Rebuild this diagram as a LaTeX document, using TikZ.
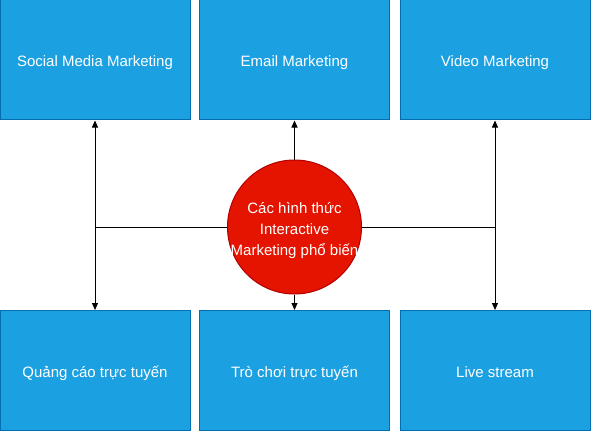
\documentclass[tikz,border=0pt]{standalone}
\usepackage{fontspec}
\setmainfont{Liberation Sans}
\usetikzlibrary{arrows.meta}

\definecolor{boxblue}{RGB}{27,161,226}
\definecolor{boxline}{RGB}{0,110,175}
\definecolor{hubred}{RGB}{229,20,0}
\definecolor{hubline}{RGB}{178,0,0}

\tikzset{every picture/.style={line width=0.75pt}}
\tikzset{
  kindbox/.style={draw=boxline, fill=boxblue, text=white, minimum width=142.5pt, minimum height=90pt, inner sep=0.75pt, text height=10pt, text depth=0pt, font=\fontsize{11.25}{13.5}\selectfont},
  hubdisc/.style={circle, draw=hubline, fill=hubred, minimum size=100.5pt, inner sep=0pt},
  hubtext/.style={text=white, inner sep=0pt, align=center, font=\fontsize{11.25}{15.75}\selectfont},
  link/.style={draw=black, line width=0.75pt},
  tip/.style={-{Triangle[length=5.25pt,width=4.5pt]}}
}

\begin{document}
\begin{tikzpicture}[x=0.75pt,y=0.75pt,yscale=-1,xscale=1]
        \useasboundingbox (0,0) rectangle (591,431);
        % Top row
        \node [kindbox] (social) at (95,60) {Social Media Marketing};
        \node [kindbox] (email) at (294.5,60) {Email Marketing};
        \node [kindbox] (video) at (495,60) {Video Marketing};
        % Bottom row
        \node [kindbox] (ads) at (95,370.5) {Quảng cáo trực tuyến};
        \node [kindbox] (games) at (294.5,370.5) {Trò chơi trực tuyến};
        \node [kindbox] (live) at (495,370.5) {Live stream};
        % Centre
        \node [hubdisc, label={[hubtext, name=hubcap, yshift=-2.8pt]center:{Các hình thức\\Interactive\\Marketing phổ biến}}] (hub) at (294.5,227) {};

        % Side links
        \draw [link,{Triangle[length=5.25pt,width=4.5pt]}-{Triangle[length=5.25pt,width=4.5pt]}] (social.south) -- (ads.north);
        \draw [link,{Triangle[length=5.25pt,width=4.5pt]}-{Triangle[length=5.25pt,width=4.5pt]}] (video.south) -- (live.north);
        % Horizontal link
        \draw [link] (hub.west) -- (hub.west -| social.south);
        \draw [link] (hub.east) -- (hub.east -| video.south);
        % Centre links
        \draw [link,tip] (hub.north) -- (email.south);
        \draw [link,tip] (hub.south) -- (games.north);
\end{tikzpicture}
\end{document}
